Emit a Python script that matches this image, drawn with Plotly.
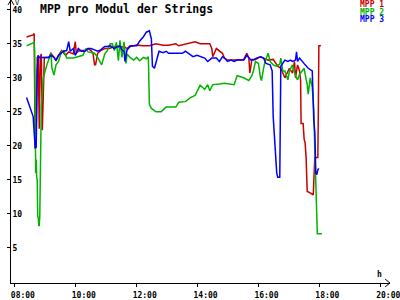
import plotly.graph_objects as go

DAY = "2024-06-01 "

# MPP 1 (red)
t1 = ["08:23","08:36","08:38","08:40","08:42","08:44","08:46","08:48","08:50","08:52","08:54","08:56","08:58",
      "09:07","09:11","09:17","09:21","09:26","09:32","09:40","09:46","09:55","09:59","10:01","10:05","10:11",
      "10:18","10:24","10:30","10:34","10:37","10:39","10:43","10:49","10:57","11:06","11:16","11:27","11:35",
      "11:41","11:47","11:54","12:00","12:13","12:25","12:38","12:52","13:03","13:17","13:23","13:36","13:42",
      "13:55","14:05","14:14","14:24","14:28","14:30","14:37","14:43","14:49","14:53","14:59","15:12","15:22",
      "15:31","15:37","15:41","15:43","15:47","15:54","16:04","16:10","16:19","16:29","16:38","16:44","16:52",
      "16:54","17:01","17:07","17:11","17:13","17:17","17:21","17:23","17:24","17:28","17:30","17:32","17:34",
      "17:36","17:42","17:46","17:48","17:49","17:51","17:55","17:57","17:58","17:59","18:03"]
v1 = [36.0,36.3,36.5,19.5,22.0,33.0,33.2,22.5,33.0,33.5,22.3,29.5,33.0,
      33.0,33.6,33.0,32.5,33.3,34.0,33.3,33.8,33.5,35.3,33.6,33.9,34.0,
      34.0,34.3,34.0,33.6,31.9,31.9,33.6,34.0,34.3,34.3,34.6,34.5,34.6,
      34.3,34.7,34.7,34.8,34.7,34.7,35.0,34.8,34.8,35.0,34.7,34.9,35.0,
      35.3,35.0,35.0,35.0,34.3,33.1,34.3,33.9,33.6,32.9,32.6,32.6,32.6,
      32.7,33.6,32.9,30.7,32.7,32.7,33.1,32.9,32.6,32.7,31.7,31.4,30.0,
      30.3,31.4,30.7,32.4,30.0,31.9,31.0,29.6,23.3,23.3,21.0,20.4,18.1,
      13.3,13.1,12.9,12.8,14.7,18.3,18.3,18.3,25.3,34.7,34.7]

# MPP 2 (green)
t2 = ["08:23","08:36","08:38","08:39","08:40","08:41","08:42","08:43","08:44","08:45","08:46","08:47","08:48",
      "08:49","08:50","08:52","08:56","09:01","09:03","09:11","09:13","09:17","09:21","09:26","09:32","09:36",
      "09:40","09:42","09:55","10:05","10:14","10:20","10:24","10:37","10:43","10:51","10:57","11:02","11:08",
      "11:12","11:16","11:20","11:24","11:27","11:31","11:35","11:39","11:41","11:47","11:54","12:00","12:06",
      "12:13","12:19","12:23","12:25","12:29","12:33","12:38","12:48","12:58","13:17","13:23","13:36","13:46",
      "13:55","14:05","14:14","14:20","14:24","14:30","14:43","14:53","15:12","15:18","15:31","15:41","15:47",
      "15:50","15:54","16:00","16:04","16:06","16:10","16:13","16:19","16:23","16:29","16:35","16:42","16:44",
      "16:48","16:52","16:58","17:01","17:07","17:13","17:17","17:21","17:26","17:30","17:32","17:36","17:38",
      "17:42","17:46","17:49","17:51","17:53","17:55","17:56","18:05"]
v2 = [34.7,35.1,35.2,33.6,25.0,16.0,18.0,15.3,15.0,9.5,9.6,8.3,8.3,
      9.6,18.6,25.7,30.0,31.5,31.9,33.6,31.4,30.4,31.9,32.4,33.9,34.0,
      33.3,32.9,32.9,33.1,33.3,34.3,33.8,33.6,33.0,31.9,33.5,34.0,35.0,
      35.0,34.0,35.2,32.5,35.5,33.0,35.3,32.1,33.5,33.0,32.6,33.0,32.5,
      33.0,32.8,33.1,26.1,25.5,25.3,25.0,25.0,25.7,25.7,26.4,26.5,27.1,
      27.4,28.9,28.3,29.0,28.1,29.0,29.1,29.2,29.0,30.3,30.0,29.6,30.3,
      31.0,32.4,32.1,30.0,29.6,31.4,32.4,33.6,32.4,31.9,31.7,32.0,32.9,
      31.0,31.0,29.7,31.0,31.9,30.3,29.7,30.5,31.0,31.4,30.5,29.0,27.6,
      30.0,28.6,25.3,19.5,14.7,11.9,7.1,7.1]

# MPP 3 (blue)
t3 = ["08:23","08:36","08:38","08:40","08:42","08:44","08:46","08:48","09:07","09:11","09:17","09:21","09:26",
      "09:36","09:42","09:46","09:49","09:55","09:59","10:05","10:11","10:18","10:24","10:30","10:37","10:43",
      "10:49","10:57","11:02","11:08","11:16","11:22","11:27","11:31","11:35","11:37","11:41","11:47","11:54",
      "12:00","12:06","12:13","12:19","12:25","12:29","12:31","12:35","12:38","12:44","12:52","12:58","13:03",
      "13:30","13:36","13:42","13:51","13:59","14:09","14:14","14:20","14:28","14:37","14:43","14:49","14:53",
      "14:59","15:06","15:12","15:18","15:31","15:37","15:45","15:50","15:56","16:04","16:10","16:15","16:23",
      "16:27","16:29","16:33","16:36","16:38","16:42","16:44","16:52","16:58","17:03","17:07","17:13","17:15",
      "17:17","17:21","17:26","17:32","17:38","17:46","17:49","17:51","17:53","17:55","17:57","17:59"]
v3 = [27.1,24.3,22.0,19.7,19.8,31.0,33.3,33.0,33.0,33.3,33.0,32.6,33.3,
      33.9,34.0,35.3,33.9,34.3,33.3,34.3,33.9,33.9,34.3,34.3,34.1,33.9,
      34.1,34.6,34.6,34.7,34.3,34.6,34.7,34.1,33.9,32.4,34.1,34.6,34.7,
      34.7,35.4,36.0,36.7,36.9,35.7,31.7,31.4,32.4,33.9,33.7,33.9,33.6,
      33.6,33.9,33.6,33.1,33.3,33.1,32.9,32.4,32.9,32.9,32.4,33.1,32.9,
      32.4,32.6,32.4,32.6,32.6,33.3,32.6,32.6,32.9,33.1,32.9,32.1,31.9,
      31.0,24.3,19.0,16.0,15.4,15.4,31.7,32.6,32.4,32.6,32.4,32.6,33.8,
      32.4,32.9,32.4,31.9,31.4,31.0,23.8,22.0,16.0,15.8,16.5,16.7]

names = ["MPP 1", "MPP 2", "MPP 3"]
colors = ["#c80000", "#00b400", "#0000ff"]
title = "MPP pro Modul der Strings"
y_ticks = [5, 10, 15, 20, 25, 30, 35, 40]
x_ticks = ["08:00", "10:00", "12:00", "14:00", "16:00", "18:00", "20:00"]

FONT = "DejaVu Sans Mono"

fig = go.Figure()
for t, v, n, c in zip([t1, t2, t3], [v1, v2, v3], names, colors):
    fig.add_trace(go.Scatter(x=[DAY + s for s in t], y=v, mode="lines", name=n,
                             line=dict(color=c, width=1.5), showlegend=False))

W, H = 400, 300
L, B = 11, 9
pw, ph = W - L, H - B


def px(x):
    return (x - L) / pw


def py(y):
    return (H - B - y) / ph


fig.update_layout(
    width=W, height=H,
    margin=dict(l=L, r=0, t=0, b=B),
    plot_bgcolor="white", paper_bgcolor="white",
    font=dict(family=FONT, size=8, color="black"),
    title=dict(text="<b>" + title + "</b>", x=40 / W, xanchor="left", y=1 - 8.5 / H, yanchor="middle",
               font=dict(family=FONT, size=11.5, color="black")),
)
fig.update_xaxes(
    type="date",
    range=[DAY + "07:52:19", DAY + "20:19:12"],
    tickvals=[DAY + s for s in x_ticks], ticktext=x_ticks,
    showgrid=False, zeroline=False, showline=True, linecolor="black", linewidth=1,
    ticks="outside", ticklen=3, tickcolor="black",
    ticklabelshift=8, ticklabelstandoff=1, ticklabeloverflow="allow",
    tickfont=dict(family=FONT, size=8, color="black", weight="bold"),
)
fig.update_yaxes(
    range=[-1 / 7, 41.43],
    tickvals=y_ticks, ticktext=[str(v) for v in y_ticks],
    showgrid=False, zeroline=False, showline=True, linecolor="black", linewidth=1,
    ticks="outside", ticklen=3, tickcolor="black",
    ticklabelposition="inside", ticklabeloverflow="allow",
    tickfont=dict(family=FONT, size=8, color="black", weight="bold"),
)

# legend as coloured text
for i, (n, c) in enumerate(zip(names, colors)):
    fig.add_annotation(xref="paper", yref="paper", x=px(396), y=py(4.5 + 8 * i),
                       xanchor="right", yanchor="middle", text="<b>" + n + "</b>", showarrow=False,
                       font=dict(family=FONT, size=8, color=c))
# axis units
fig.add_annotation(xref="paper", yref="paper", x=px(14), y=py(3), xanchor="left", yanchor="middle",
                   text="V", showarrow=False, borderpad=0, font=dict(family=FONT, size=7, color="black"))
fig.add_annotation(xref="paper", yref="paper", x=px(385), y=py(282), xanchor="left", yanchor="middle",
                   text="<b>h</b>", showarrow=False, font=dict(family=FONT, size=8, color="black"))
# arrowheads
arr = dict(type="path", xref="paper", yref="paper", line=dict(color="black", width=1))
fig.add_shape(path=f"M {px(8)} {py(5)} L {px(11)} {py(0)} L {px(14)} {py(5)}", **arr)
fig.add_shape(path=f"M {px(395)} {py(287)} L {px(400)} {py(291)} L {px(395)} {py(295)}", **arr)
fig.add_shape(type="line", xref="paper", yref="paper", x0=px(11), x1=px(11), y0=1, y1=py(0),
              line=dict(color="black", width=1))
fig.add_shape(type="line", xref="paper", yref="paper", x0=1, x1=px(400), y0=0, y1=0,
              line=dict(color="black", width=1))

fig.write_html("out.html")
